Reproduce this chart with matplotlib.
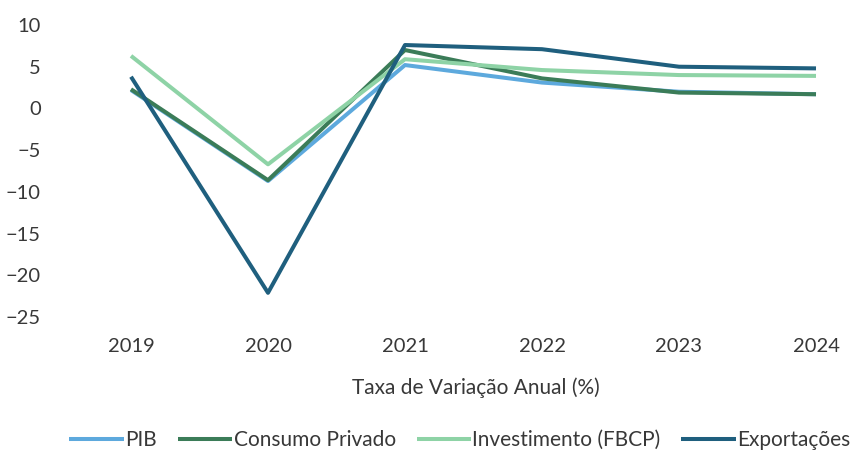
import matplotlib
matplotlib.use("Agg")
import matplotlib.pyplot as plt

plt.rcParams['font.family'] = ['Lato', 'DejaVu Sans']

anos = ["2019", "2020", "2021", "2022", "2023", "2024"]
pib = [2.2, -8.7, 5.2, 3.1, 2.0, 1.7]
consumo = [2.3, -8.6, 7.0, 3.6, 1.9, 1.7]
investimento = [6.3, -6.7, 5.9, 4.6, 4.0, 3.9]
exportacoes = [3.8, -22.1, 7.6, 7.1, 5.0, 4.8]

series = [
    ("PIB", pib, "#5DA9DD"),
    ("Consumo Privado", consumo, "#3B7C58"),
    ("Investimento (FBCP)", investimento, "#8ED3A6"),
    ("Exportações", exportacoes, "#1F5F7E"),
]

W, H = 858, 450
fig = plt.figure(figsize=(W / 100, H / 100), dpi=100)
ax = fig.add_axes([131 / W, 1 - 317 / H, (816 - 131) / W, (317 - 25) / H])

x = list(range(len(anos)))
for name, vals, col in series:
    ax.plot(x, vals, color=col, lw=2.9, label=name, solid_capstyle='butt', clip_on=False)

ax.set_xlim(0, len(anos) - 1)
ax.set_ylim(-25, 10)
ax.set_yticks(range(-25, 11, 5))
ax.set_xticks(x)
ax.set_xticklabels(anos)
for s in ax.spines.values():
    s.set_visible(False)
ax.tick_params(axis='both', length=0, labelsize=14.5, colors='#383838')
ax.tick_params(axis='y', pad=65)
ax.tick_params(axis='x', pad=15)

fig.text(476 / W, 1 - 388 / H, "Taxa de Variação Anual (%)", ha='center', va='center',
         fontsize=15, color='#383838')

fig.legend(loc='center', bbox_to_anchor=(460 / W, 1 - 440 / H), ncol=4, frameon=False,
           fontsize=15, handlelength=2.6, handletextpad=0.08, columnspacing=1.0,
           labelcolor='#383838')

fig.savefig("out.png", dpi=100)
